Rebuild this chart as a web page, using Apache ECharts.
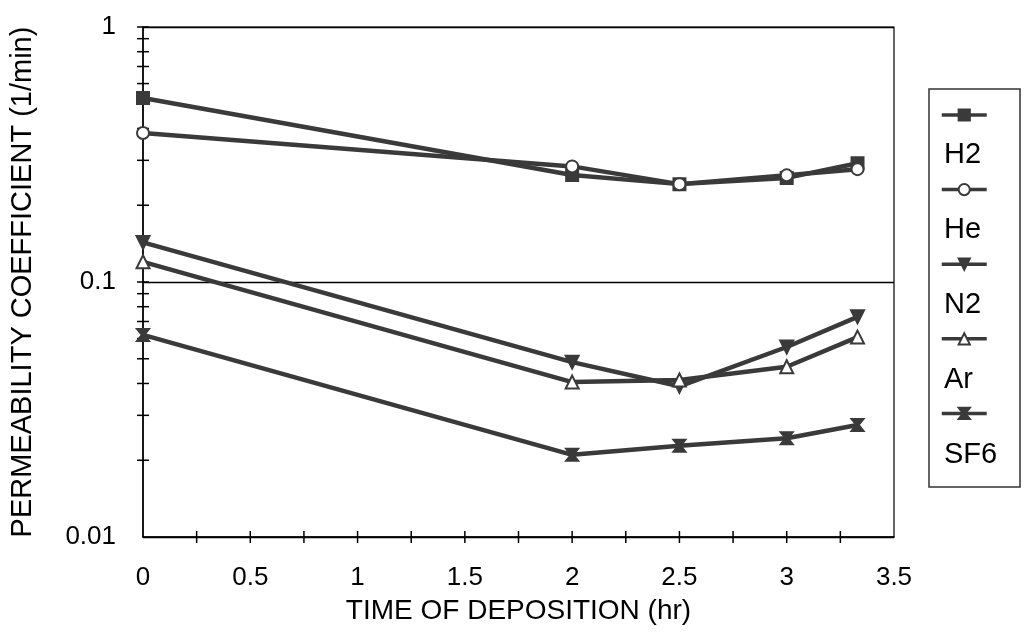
<!DOCTYPE html>
<html>
<head>
<meta charset="utf-8">
<script src="https://cdn.jsdelivr.net/npm/echarts@6/dist/echarts.min.js"></script>
<style>
  html, body { margin: 0; padding: 0; background: #fff; }
  #chart { width: 1024px; height: 632px; }
</style>
</head>
<body>
<div id="chart"></div>
<script>
// deposition time (hr)
const times = [0, 2, 2.5, 3, 3.33];

// permeability coefficient (1/min)
const h2  = [0.527, 0.263, 0.242, 0.256, 0.292];
const he  = [0.384, 0.284, 0.242, 0.262, 0.277];
const n2  = [0.143, 0.0485, 0.0390, 0.0556, 0.073];
const ar  = [0.120, 0.0405, 0.0413, 0.0465, 0.0608];
const sf6 = [0.062, 0.0210, 0.0228, 0.0244, 0.0275];

const gasNames = ['H2', 'He', 'N2', 'Ar', 'SF6'];

// tick positions drawn across the axes
const yTicks = [0.02, 0.03, 0.04, 0.05, 0.06, 0.07, 0.08, 0.09, 0.1,
                0.2, 0.3, 0.4, 0.5, 0.6, 0.7, 0.8, 0.9, 1];
const xTicks = [0.25, 0.5, 0.75, 1, 1.25, 1.5, 1.75, 2, 2.25, 2.5, 2.75, 3, 3.25];

const FONT = '"Liberation Sans", Arial, sans-serif';
const LINE = '#3a3a3a';

const bowtie = 'path://M0,0 L10,0 L6,5 L10,10 L0,10 L4,5 Z';

function pairs(ys) {
  return times.map((t, i) => [t, ys[i]]);
}

function gasSeries(name, ys, symbol, fill, rotate, size) {
  return {
    name: name,
    type: 'line',
    data: pairs(ys),
    symbol: symbol,
    symbolSize: size,
    symbolRotate: rotate,
    showSymbol: true,
    lineStyle: { color: LINE, width: 4.5 },
    itemStyle: { color: fill, borderColor: LINE, borderWidth: 2 },
    emphasis: { disabled: true },
    z: 3
  };
}

const tickData = yTicks.map(v => [0, v, 'y']).concat(xTicks.map(v => [v, 0.01, 'x']));

const chartDom = document.getElementById('chart');
const myChart = echarts.init(chartDom, null, { renderer: 'canvas' });

const option = {
  animation: false,
  backgroundColor: '#fff',
  grid: {
    left: 143, right: 130, top: 27, bottom: 95,
    show: true, borderColor: '#000', borderWidth: 1.2
  },
  xAxis: {
    type: 'value',
    min: 0, max: 3.5, interval: 0.5,
    axisLine: { onZero: false, lineStyle: { color: '#000', width: 1.5 } },
    axisTick: { show: false },
    splitLine: { show: false },
    axisLabel: {
      color: '#000', fontFamily: FONT, fontSize: 26, margin: 28,
      formatter: v => String(v)
    },
    name: 'TIME OF DEPOSITION (hr)',
    nameLocation: 'middle',
    nameGap: 60,
    nameTextStyle: { color: '#000', fontFamily: FONT, fontSize: 28 }
  },
  yAxis: {
    type: 'log',
    logBase: 10,
    min: 0.01, max: 1,
    axisLine: { lineStyle: { color: '#000', width: 1.5 } },
    axisTick: { show: false },
    splitLine: { show: true, lineStyle: { color: '#000', width: 1.3 } },
    minorSplitLine: { show: false },
    axisLabel: {
      color: '#000', fontFamily: FONT, fontSize: 26, margin: 27,
      formatter: v => (v >= 1 ? '1' : String(+v.toPrecision(1)))
    },
    name: 'PERMEABILITY COEFFICIENT (1/min)',
    nameLocation: 'middle',
    nameGap: 106,
    nameTextStyle: { color: '#000', fontFamily: FONT, fontSize: 29 }
  },
  legend: [
    {
      data: gasNames,
      orient: 'vertical',
      left: 940, top: 108,
      itemWidth: 45, itemHeight: 14,
      itemGap: 61,
      formatter: () => '',
      padding: 0,
      selectedMode: false,
      lineStyle: { width: 3.5 }
    },
    {
      data: gasNames.map(n => ({ name: n, icon: 'none' })),
      orient: 'vertical',
      left: 939, top: 140,
      itemWidth: 0, itemHeight: 30,
      itemGap: 45,
      padding: 0,
      selectedMode: false,
      textStyle: { color: '#000', fontFamily: FONT, fontSize: 29, lineHeight: 30 }
    }
  ],
  graphic: [
    {
      type: 'rect',
      shape: { x: 929, y: 89, width: 91, height: 398 },
      style: { fill: 'none', stroke: '#333', lineWidth: 1.5 },
      z: -1
    }
  ],
  series: [
    gasSeries('H2', h2, 'rect', LINE, 0, 12),
    gasSeries('He', he, 'circle', '#fff', 0, 12),
    gasSeries('N2', n2, 'triangle', LINE, 180, 13),
    gasSeries('Ar', ar, 'triangle', '#fff', 0, 13),
    gasSeries('SF6', sf6, bowtie, LINE, 0, 12),
    {
      name: 'ticks',
      type: 'custom',
      data: tickData,
      clip: false,
      silent: true,
      z: 2,
      renderItem: function (params, api) {
        const p = api.coord([api.value(0), api.value(1)]);
        const isY = tickData[params.dataIndex][2] === 'y';
        const shape = isY
          ? { x1: p[0] - 6, y1: p[1], x2: p[0] + 6, y2: p[1] }
          : { x1: p[0], y1: p[1] - 6, x2: p[0], y2: p[1] + 6 };
        return {
          type: 'line',
          shape: shape,
          style: { stroke: '#000', lineWidth: 1.5 }
        };
      }
    }
  ]
};

option && myChart.setOption(option);
</script>
</body>
</html>
